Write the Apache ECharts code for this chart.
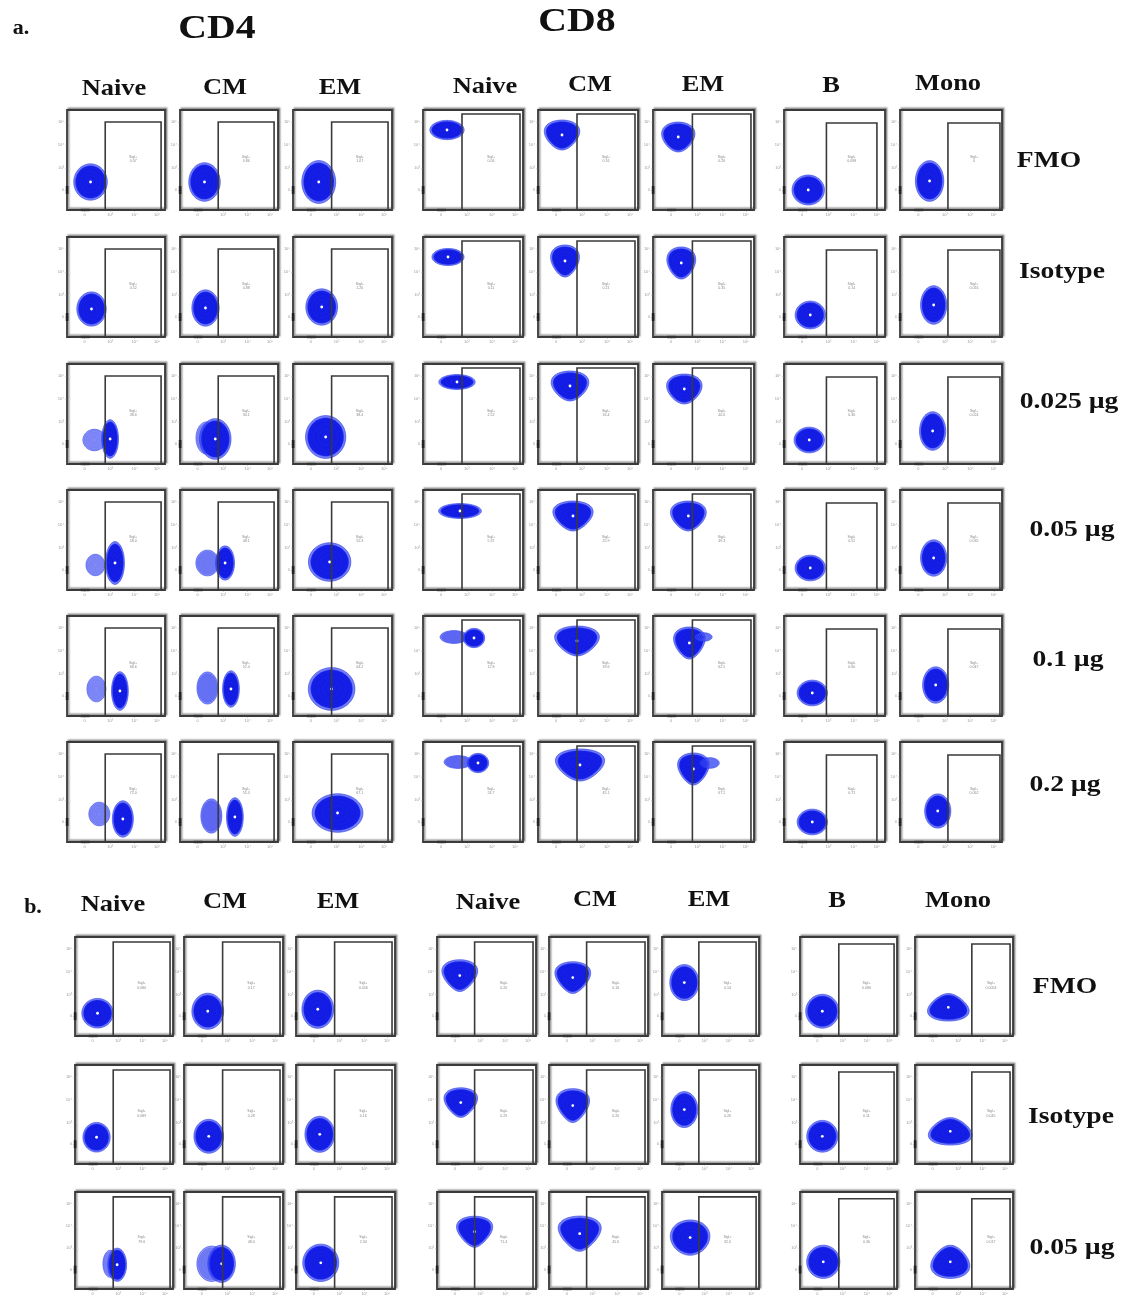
<!DOCTYPE html>
<html>
<head>
<meta charset="utf-8">
<script src="https://cdn.jsdelivr.net/npm/echarts@6/dist/echarts.min.js"></script>
<style>html,body{margin:0;padding:0;background:#fff}#c{width:1134px;height:1296px}</style>
</head>
<body>
<div id="c"></div>
<script>
// ---------------- DATA ----------------
const colHeaders = ['Naive', 'CM', 'EM', 'Naive', 'CM', 'EM', 'B', 'Mono'];
const groupTitles = ['CD4', 'CD8'];
const rowLabelsA = ['FMO', 'Isotype', '0.025 µg', '0.05 µg', '0.1 µg', '0.2 µg'];
const rowLabelsB = ['FMO', 'Isotype', '0.05 µg'];
const tickLabels = ['0', '10³', '10⁴', '10⁵'];
const yTickValues = [20, 42, 65, 88];
const xTickValues = [18, 44, 69, 92];
const gateName = 'Sigl+';

// blob = [centerX, centerY, radiusX, radiusY, density, taper] (axis units 0-100)
const blobsA_FMO = [
  [[24, 28, 16, 17, 1, 0]], [[25, 28, 15, 18, 1, 0]], [[26, 28, 16, 20, 1, 0]],
  [[24, 80, 16, 9, 1, 0]], [[24, 75, 16, 14, 1, 0.35]], [[25, 73, 15, 14, 1, 0.3]],
  [[24, 20, 15, 14, 1, 0]], [[29, 29, 13, 19, 1, 0]]
];
const blobsA_Isotype = [
  [[25, 28, 14, 16, 1, 0]], [[26, 29, 13, 17, 1, 0]], [[29, 30, 15, 17, 1, 0]],
  [[25, 80, 15, 8, 1, 0]], [[27, 76, 13, 15, 1, 0.35]], [[28, 74, 13, 15, 1, 0.3]],
  [[26, 22, 14, 13, 1, 0]], [[33, 32, 12, 18, 1, 0]]
];
const blobsA_0025 = [
  [[28, 24, 11, 10, 0.45, 0], [44, 25, 8, 18, 1, 0]],
  [[27, 26, 10, 15, 0.5, 0], [36, 25, 15, 19, 1, 0]],
  [[33, 27, 19, 20, 1, 0]],
  [[34, 82, 17, 7, 1, 0]], [[32, 78, 17, 14, 1, 0.35]], [[31, 75, 16, 14, 1, 0.3]],
  [[25, 24, 14, 12, 1, 0]], [[32, 33, 12, 18, 1, 0]]
];
const blobsA_005 = [
  [[29, 25, 9, 10, 0.45, 0], [49, 27, 9, 20, 1, 0]],
  [[28, 27, 11, 12, 0.6, 0], [46, 27, 9, 16, 1, 0]],
  [[37, 28, 20, 18, 1, 0]],
  [[37, 79, 20, 7, 1, 0]], [[35, 74, 18, 14, 1, 0.4]], [[35, 74, 16, 14, 1, 0.35]],
  [[26, 22, 14, 12, 1, 0]], [[33, 32, 12, 17, 1, 0]]
];
const blobsA_01 = [
  [[30, 27, 9, 12, 0.45, 0], [54, 25, 8, 18, 1, 0]],
  [[28, 28, 10, 15, 0.7, 0], [52, 27, 8, 17, 1, 0]],
  [[39, 27, 22, 20, 1, 0]],
  [[31, 79, 13, 6, 0.8, 0], [51, 78, 10, 9, 1, 0]],
  [[39, 75, 20, 14, 1, 0.4]],
  [[36, 73, 14, 15, 1, 0.4], [50, 79, 8, 4, 0.7, 0]],
  [[28, 23, 14, 12, 1, 0]], [[35, 31, 12, 17, 1, 0]]
];
const blobsA_02 = [
  [[33, 28, 10, 11, 0.5, 0], [57, 23, 10, 17, 1, 0]],
  [[32, 26, 10, 16, 0.8, 0], [56, 25, 8, 18, 1, 0]],
  [[45, 29, 24, 18, 1, 0]],
  [[35, 80, 13, 6, 0.8, 0], [55, 79, 10, 9, 1, 0]],
  [[42, 77, 22, 15, 1, 0.4]],
  [[40, 73, 14, 15, 1, 0.4], [56, 79, 9, 5, 0.7, 0]],
  [[28, 20, 14, 12, 1, 0]], [[37, 31, 12, 16, 1, 0]]
];
const blobsB_FMO = [
  [[23, 23, 15, 14, 1, 0]], [[24, 25, 15, 17, 1, 0]], [[22, 27, 15, 18, 1, 0]],
  [[23, 61, 16, 15, 1, 0.45]], [[24, 59, 16, 15, 1, 0.45]], [[23, 54, 14, 17, 1, 0]],
  [[23, 25, 16, 16, 1, 0]], [[34, 29, 19, 13, 1, -0.4]]
];
const blobsB_Isotype = [
  [[22, 27, 13, 14, 1, 0]], [[25, 28, 14, 16, 1, 0]], [[24, 30, 14, 17, 1, 0]],
  [[24, 62, 15, 14, 1, 0.45]], [[24, 59, 15, 16, 1, 0.45]], [[23, 55, 13, 17, 1, 0]],
  [[23, 28, 15, 15, 1, 0]], [[36, 33, 20, 13, 1, -0.4]]
];
const blobsB_005 = [
  [[36, 26, 7, 13, 0.5, 0], [43, 25, 9, 16, 1, 0]],
  [[28, 26, 14, 17, 0.6, 0], [38, 26, 13, 18, 1, 0]],
  [[25, 27, 17, 18, 1, 0]],
  [[38, 59, 16, 15, 1, 0.5]], [[31, 57, 19, 17, 1, 0.5]], [[29, 53, 19, 17, 1, 0.1]],
  [[24, 28, 16, 16, 1, 0]], [[36, 28, 18, 16, 1, -0.35]]
];

// gate = [leftX, rightX, topY] per column (axis units)
const gatesA = [[39, 96, 88], [39, 96, 88], [39, 96, 88], [39, 97, 96], [39, 97, 96], [39, 97, 96], [42, 92, 87], [47, 98, 87]];
const gatesB = [[39, 97, 95], [39, 97, 95], [39, 97, 95], [38, 97, 95], [38, 97, 95], [38, 97, 95], [40, 97, 93], [58, 97, 93]];

const gateValsA = [
  ['0.37', '0.86', '1.07', '0.06', '0.16', '0.26', '0.098', '0'],
  ['0.52', '0.88', '1.26', '0.11', '0.21', '0.35', '0.14', '0.016'],
  ['38.6', '30.1', '38.4', '2.52', '16.4', '40.6', '0.36', '0.024'],
  ['58.0', '48.1', '55.3', '5.37', '25.9', '49.3', '0.52', '0.035'],
  ['68.6', '52.4', '64.2', '12.8', '39.6', '62.5', '0.60', '0.047'],
  ['72.0', '55.3', '67.1', '24.7', '45.1', '67.2', '0.72', '0.062']
];
const gateValsB = [
  ['0.080', '0.17', '0.056', '0.20', '0.16', '0.14', '0.080', '0.0054'],
  ['0.089', '0.28', '0.16', '0.29', '0.26', '0.26', '0.11', '0.045'],
  ['79.6', '48.0', '2.34', '71.4', '45.6', '32.0', '0.36', '0.017']
];

const blobRowsA = [blobsA_FMO, blobsA_Isotype, blobsA_0025, blobsA_005, blobsA_01, blobsA_02];
const blobRowsB = [blobsB_FMO, blobsB_Isotype, blobsB_005];

// ---------------- LAYOUT ----------------
const L = {
  aLeft: [67, 180, 293, 423, 538, 653, 784, 900],
  aWidth: [98, 98, 99, 100, 100, 101, 101, 102],
  aTop: [110, 237, 364, 490, 616, 742],
  aHeight: 100,
  bLeft: [75, 184, 296, 437, 549, 662, 800, 915],
  bWidth: [98, 99, 99, 99, 99, 97, 97, 98],
  bTop: [937, 1065, 1192],
  bHeight: 99,
  headA: { x: [114, 225, 340, 485, 590, 703, 831, 948], y: [89, 88, 88, 87, 85, 85, 86, 84] },
  headB: { x: [113, 225, 338, 488, 595, 709, 837, 958], y: [905, 902, 902, 903, 900, 900, 901, 901] },
  rowA: { x: [1049, 1062, 1069, 1072, 1068, 1065], y: [161, 272, 402, 530, 660, 785] },
  rowB: { x: [1065, 1071, 1072], y: [987, 1117, 1248] }
};
const SERIF = '"Liberation Serif", "Times New Roman", serif';
const BLUE = 'rgb(20,30,230)';
const SIZE_K = 1.07;

// ---------------- BUILD ----------------
const grids = [], xAxes = [], yAxes = [], series = [];

function tickFmt(vals) {
  return function (v) {
    const k = vals.indexOf(Math.round(v));
    return k >= 0 ? tickLabels[k] : '';
  };
}

function renderBlob(params, api) {
  const cx = api.value(0), cy = api.value(1);
  const rx = api.value(2) * SIZE_K, ry = api.value(3) * SIZE_K;
  const d = api.value(4), tp = api.value(5) || 0;
  function ring(s) {
    const pts = [];
    for (let i = 0; i < 60; i++) {
      const th = Math.PI * 2 * i / 60;
      const sx = Math.cos(th), sy = Math.sin(th);
      // smooth egg shape: taper > 0 wider on top (points down), < 0 wider at bottom
      const w = 1 + tp * sy * 0.8;
      pts.push(api.coord([cx + rx * s * sx * w, cy + ry * s * sy]));
    }
    return pts;
  }
  const c = api.coord([cx, cy]);
  const dense = d >= 1;
  const children = [
    { type: 'polygon', shape: { points: ring(1) }, style: { fill: 'rgba(45,60,240,' + (0.3 + 0.35 * d) + ')', stroke: 'rgba(40,55,235,0.85)', lineWidth: 0.7 } },
    { type: 'polygon', shape: { points: ring(0.9) }, style: { fill: dense ? BLUE : 'rgba(30,42,232,' + (0.5 * d) + ')', stroke: 'rgba(70,90,250,0.7)', lineWidth: 0.5 } },
    { type: 'polygon', shape: { points: ring(0.7) }, style: { fill: 'none', stroke: dense ? 'rgba(18,26,212,0.9)' : 'rgba(95,110,255,0.8)', lineWidth: 0.5 } },
    { type: 'polygon', shape: { points: ring(0.48) }, style: { fill: 'none', stroke: dense ? 'rgba(18,26,208,0.9)' : 'rgba(95,110,255,0.8)', lineWidth: 0.5 } },
    { type: 'polygon', shape: { points: ring(0.26) }, style: { fill: 'none', stroke: dense ? 'rgba(18,26,208,0.9)' : 'rgba(95,110,255,0.8)', lineWidth: 0.5 } }
  ];
  if (dense) {
    children.push({ type: 'circle', shape: { cx: c[0], cy: c[1], r: 1.4 }, style: { fill: '#fff' } });
  }
  return { type: 'group', children: children };
}

function renderGate(params, api, label) {
  const x0 = api.value(0), x1 = api.value(1), yt = api.value(2);
  const p0 = api.coord([x0, yt]), p1 = api.coord([x1, 0]);
  const mid = api.coord([(x0 + x1) / 2, 51]);
  const zeroY = api.coord([0, yTickValues[0]]);
  const zeroX = api.coord([xTickValues[0], 0]);
  return {
    type: 'group',
    children: [
      { type: 'rect', shape: { x: p0[0], y: p0[1], width: p1[0] - p0[0], height: p1[1] - p0[1] }, style: { fill: 'none', stroke: '#3a3a3a', lineWidth: 1.6 } },
      { type: 'text', x: mid[0], y: mid[1], style: { text: label, fontSize: 3.6, lineHeight: 4.5, fill: '#8a8a8a', align: 'center', verticalAlign: 'middle', textAlign: 'center', textVerticalAlign: 'middle' } },
      { type: 'rect', shape: { x: zeroY[0] - 1.2, y: zeroY[1] - 4, width: 2.6, height: 8 }, style: { fill: '#222' } },
      { type: 'rect', shape: { x: zeroX[0] - 4, y: zeroX[1] - 1.2, width: 9, height: 2.4 }, style: { fill: '#333' } }
    ]
  };
}

function addPanel(left, top, w, h, blobs, gate, val) {
  const i = grids.length;
  grids.push({
    left: left, top: top, width: w, height: h, show: true,
    borderColor: '#3a3a3a', borderWidth: 1.8, backgroundColor: '#fff',
    shadowColor: 'rgba(0,0,0,0.45)', shadowBlur: 1.5, shadowOffsetX: 1.5, shadowOffsetY: -1.5
  });
  xAxes.push({
    type: 'value', gridIndex: i, min: 0, max: 100,
    axisLine: { show: false }, splitLine: { show: false },
    axisTick: { show: true, length: 1.5, customValues: xTickValues, lineStyle: { color: '#777', width: 0.6 } },
    axisLabel: { show: true, customValues: xTickValues, formatter: tickFmt(xTickValues), fontSize: 4, color: '#999', margin: 3 }
  });
  yAxes.push({
    type: 'value', gridIndex: i, min: 0, max: 100,
    axisLine: { show: false }, splitLine: { show: false },
    axisTick: { show: true, length: 1.5, customValues: yTickValues, lineStyle: { color: '#777', width: 0.6 } },
    axisLabel: { show: true, customValues: yTickValues, formatter: tickFmt(yTickValues), fontSize: 4, color: '#999', margin: 3 }
  });
  series.push({
    type: 'custom', xAxisIndex: i, yAxisIndex: i, data: blobs, renderItem: renderBlob,
    encode: { x: 0, y: 1 }, clip: true, silent: true, z: 2
  });
  const label = gateName + '\n' + val;
  series.push({
    type: 'custom', xAxisIndex: i, yAxisIndex: i, data: [gate],
    renderItem: function (params, api) { return renderGate(params, api, label); },
    encode: { x: 0, y: 2 }, clip: false, silent: true, z: 3
  });
}

blobRowsA.forEach(function (row, r) {
  row.forEach(function (blobs, c) {
    addPanel(L.aLeft[c], L.aTop[r], L.aWidth[c], L.aHeight, blobs, gatesA[c], gateValsA[r][c]);
  });
});
blobRowsB.forEach(function (row, r) {
  row.forEach(function (blobs, c) {
    addPanel(L.bLeft[c], L.bTop[r], L.bWidth[c], L.bHeight, blobs, gatesB[c], gateValsB[r][c]);
  });
});

// ---------------- TEXT ----------------
const graphics = [];
function txt(t, x, y, size, sx) {
  graphics.push({
    type: 'text', x: x, y: y, scaleX: sx || 1.15, z: 10, silent: true,
    style: {
      text: t, fontFamily: SERIF, fontWeight: 'bold', fontSize: size, fill: '#111',
      align: 'center', verticalAlign: 'middle', textAlign: 'center', textVerticalAlign: 'middle'
    }
  });
}
txt('a.', 21, 29, 20, 1.1);
txt(groupTitles[0], 217, 29, 34, 1.17);
txt(groupTitles[1], 577, 22, 34, 1.17);
txt('b.', 33, 908, 20, 1.1);
colHeaders.forEach(function (h, c) {
  txt(h, L.headA.x[c], L.headA.y[c], 23);
  txt(h, L.headB.x[c], L.headB.y[c], 23);
});
rowLabelsA.forEach(function (t, r) { txt(t, L.rowA.x[r], L.rowA.y[r], 24); });
rowLabelsB.forEach(function (t, r) { txt(t, L.rowB.x[r], L.rowB.y[r], 24); });

const chart = echarts.init(document.getElementById('c'), null, { renderer: 'canvas' });
chart.setOption({
  backgroundColor: '#fff',
  animation: false,
  grid: grids, xAxis: xAxes, yAxis: yAxes, series: series, graphic: graphics
});
</script>
</body>
</html>
